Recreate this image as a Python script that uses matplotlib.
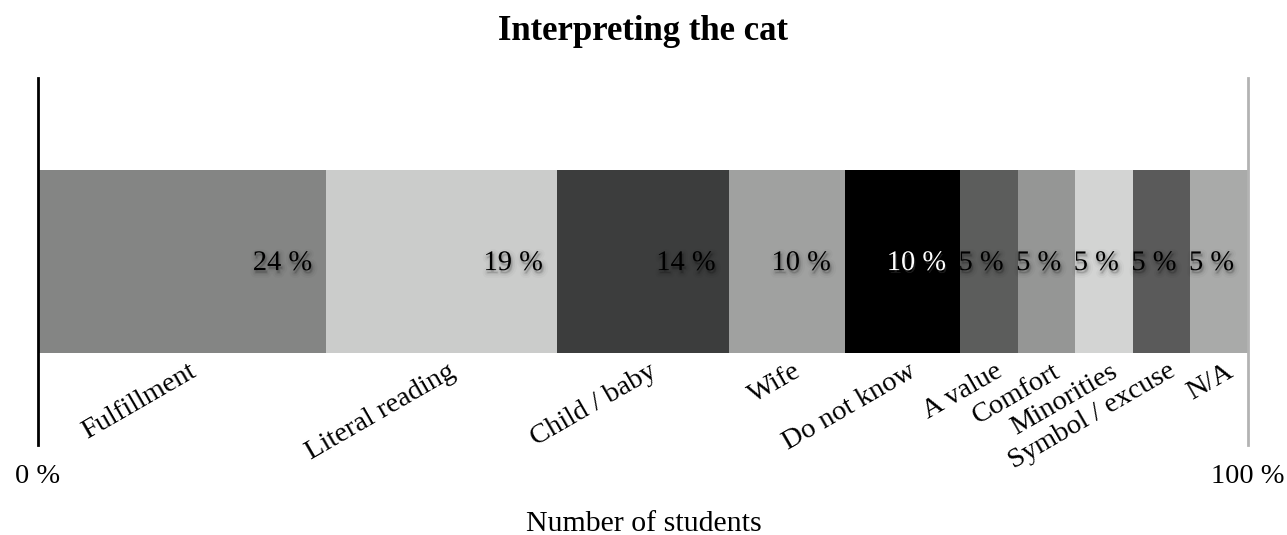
import matplotlib
matplotlib.use("Agg")
import matplotlib.pyplot as plt
import matplotlib.patheffects as pe

categories = ["Fulfillment", "Literal reading", "Child / baby", "Wife", "Do not know",
              "A value", "Comfort", "Minorities", "Symbol / excuse", "N/A"]
counts = [5, 4, 3, 2, 2, 1, 1, 1, 1, 1]
colors = ["#848584", "#cbcccb", "#3c3d3d", "#a0a1a0", "#000000",
          "#5c5d5c", "#959695", "#d3d4d3", "#5a5a5a", "#a9aaa9"]
label_colors = ["black", "black", "black", "black", "white",
                "black", "black", "black", "black", "black"]
tick_labels = ["0 %", "100 %"]

plt.rcParams['font.family'] = ['Liberation Serif', 'DejaVu Serif']

fig = plt.figure(figsize=(12.87, 5.35), dpi=100)
ax = fig.add_axes([38/1287, 1-445/535, (1248-38)/1287, (445-78)/535])

total = sum(counts)
shadow = [pe.Stroke(offset=(1, -2), linewidth=7, foreground='black', alpha=0.025),
          pe.Stroke(offset=(1, -2), linewidth=4, foreground='black', alpha=0.04),
          pe.Stroke(offset=(1, -2), linewidth=1.5, foreground='black', alpha=0.07),
          pe.Normal()]

left = 0
for cat, c, col, lc in zip(categories, counts, colors, label_colors):
    ax.barh(0, c, left=left, height=1.0, color=col, edgecolor='none')
    pct = round(100 * c / total)
    ax.annotate(f"{pct} %", xy=(left + c, 0), xytext=(-10, -1.5), textcoords='offset points',
                ha='right', va='center', fontsize=20.5, color=lc, path_effects=shadow)
    ax.annotate(cat, xy=(left + c / 2, -0.5), xytext=(13, -4), textcoords='offset points',
                ha='right', va='top', rotation=30, fontsize=20.5, color='black')
    left += c

ax.set_xlim(0, total)
ax.set_ylim(-1, 1)
ax.set_yticks([])
ax.set_xticks([0, total])
ax.set_xticklabels(tick_labels, fontsize=20.5)
ax.tick_params(axis='x', length=0, pad=14)
for s in ['top', 'bottom']:
    ax.spines[s].set_visible(False)
ax.spines['left'].set_color('black')
ax.spines['left'].set_linewidth(2)
ax.spines['right'].set_color('#b3b3b3')
ax.spines['right'].set_linewidth(2)

fig.text(0.5, 1 - 531/535, "Number of students", ha='center', va='baseline', fontsize=21.5)
fig.text(0.5, 1 - 40/535, "Interpreting the cat", ha='center', va='baseline',
         fontsize=25, fontweight='bold')

fig.savefig("out.png", dpi=100)
